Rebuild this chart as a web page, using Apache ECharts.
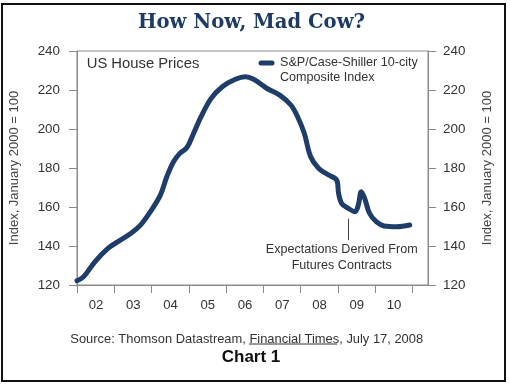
<!DOCTYPE html>
<html>
<head>
<meta charset="utf-8">
<script src="https://cdn.jsdelivr.net/npm/echarts@6/dist/echarts.min.js"></script>
<style>html,body{margin:0;padding:0;background:#fff;}#c{width:510px;height:384px;}</style>
</head>
<body>
<div id="c"></div>
<script>
// Time in fractional years
var years = [2002.0, 2002.18, 2002.48, 2002.83, 2003.1, 2003.45, 2003.71, 2003.97, 2004.24, 2004.41, 2004.59, 2004.76, 2004.95, 2005.11, 2005.33, 2005.6, 2005.9, 2006.25, 2006.52, 2006.74, 2007.09, 2007.44, 2007.74, 2007.92, 2008.1, 2008.27, 2008.49, 2008.75, 2008.97, 2009.02, 2009.1, 2009.28, 2009.46, 2009.55, 2009.63, 2009.72, 2009.85, 2010.03, 2010.24, 2010.59, 2010.93];
var values = [122.2, 124.3, 131.9, 138.8, 142.2, 146.5, 150.8, 157.6, 166.2, 175.5, 183.2, 187.5, 190.5, 196.9, 206.3, 215.7, 221.7, 225.5, 226.8, 225.5, 220.9, 217.4, 212.3, 206.3, 197.8, 185.8, 179.8, 176.4, 173.8, 167.0, 161.9, 159.3, 157.6, 161.0, 167.8, 164.4, 156.8, 152.5, 150.3, 149.9, 150.8];
var yTicks = [120, 140, 160, 180, 200, 220, 240];
var xLabels = ['02', '03', '04', '05', '06', '07', '08', '09', '10'];
var annotationX = 2009.29;
var annotationRange = [154, 143];

var seriesData = years.map(function (t, i) { return [t, values[i]]; });
var F = 'Liberation Sans, Arial, sans-serif';
var axisGrey = '#8a8a8a';
var navy = '#1e3d68';

var chart = echarts.init(document.getElementById('c'), null, {renderer: 'canvas'});
var yAxisCommon = {
  type: 'value', min: yTicks[0], max: yTicks[yTicks.length - 1], interval: 20,
  name: 'Index, January 2000 = 100', nameLocation: 'middle', nameRotate: 90,
  nameTextStyle: {fontFamily: F, fontSize: 13, color: '#444'},
  axisLine: {show: true, lineStyle: {color: axisGrey, width: 1}},
  axisTick: {show: true, length: 8, lineStyle: {color: axisGrey}},
  splitLine: {show: false},
  axisLabel: {fontFamily: F, fontSize: 13.4, color: '#333'}
};
chart.setOption({
  animation: false,
  grid: {left: 69, right: 82, top: 51, bottom: 99, show: true, borderColor: axisGrey, borderWidth: 1},
  xAxis: {
    type: 'value', min: 2002, max: 2011.42, interval: 1,
    axisLine: {show: true, lineStyle: {color: axisGrey}},
    axisTick: {show: true, length: 8, lineStyle: {color: axisGrey}},
    splitLine: {show: false},
    axisLabel: {
      fontFamily: F, fontSize: 13.2, color: '#333', margin: 14,
      padding: [0, 0, 0, 38],
      showMaxLabel: false,
      formatter: function (v) {
        var i = Math.round(v) - 2002;
        return (i >= 0 && i < xLabels.length) ? xLabels[i] : '';
      }
    }
  },
  yAxis: [
    Object.assign({}, yAxisCommon, {position: 'left', nameGap: 56, axisLabel: Object.assign({}, yAxisCommon.axisLabel, {margin: 17})}),
    Object.assign({}, yAxisCommon, {position: 'right', nameGap: 53, axisLabel: Object.assign({}, yAxisCommon.axisLabel, {margin: 15})})
  ],
  series: [{
    type: 'line', name: 'S&P/Case-Shiller 10-city Composite Index',
    data: seriesData, showSymbol: false, smooth: 0.35,
    lineStyle: {color: navy, width: 5, cap: 'round', join: 'round'},
    markLine: {
      silent: true, symbol: 'none', label: {show: false},
      lineStyle: {color: '#444', width: 1, type: 'solid'},
      data: [[{coord: [annotationX, annotationRange[0]]}, {coord: [annotationX, annotationRange[1]]}]]
    }
  }],
  graphic: [
    {type: 'rect', shape: {x: 2, y: 4, width: 503, height: 377}, style: {fill: 'none', stroke: '#111', lineWidth: 2}, silent: true},
    {type: 'text', x: 251.5, y: 23, style: {text: 'How Now, Mad Cow?', font: 'bold 19.6px "DejaVu Serif", serif', fill: '#1f3b63', textAlign: 'center', textVerticalAlign: 'middle'}},
    {type: 'text', x: 86.7, y: 64, style: {text: 'US House Prices', font: '14.8px ' + F, fill: '#333', textAlign: 'left', textVerticalAlign: 'middle'}},
    {type: 'line', shape: {x1: 261, y1: 63, x2: 272, y2: 63}, style: {stroke: navy, lineWidth: 5, lineCap: 'round'}},
    {type: 'text', x: 280, y: 63, style: {text: 'S&P/Case-Shiller 10-city', font: '12.6px ' + F, fill: '#333', textAlign: 'left', textVerticalAlign: 'middle'}},
    {type: 'text', x: 280, y: 78, style: {text: 'Composite Index', font: '12.6px ' + F, fill: '#333', textAlign: 'left', textVerticalAlign: 'middle'}},
    {type: 'text', x: 341.7, y: 250, style: {text: 'Expectations Derived From', font: '12.6px ' + F, fill: '#333', textAlign: 'center', textVerticalAlign: 'middle'}},
    {type: 'text', x: 341.7, y: 266, style: {text: 'Futures Contracts', font: '12.6px ' + F, fill: '#333', textAlign: 'center', textVerticalAlign: 'middle'}},
    {type: 'text', x: 246.7, y: 339, style: {text: 'Source: Thomson Datastream, Financial Times, July 17, 2008', font: '12.9px ' + F, fill: '#333', textAlign: 'center', textVerticalAlign: 'middle'}},
    {type: 'line', shape: {x1: 249, y1: 344, x2: 337, y2: 344}, style: {stroke: '#333', lineWidth: 1}},
    {type: 'text', x: 251, y: 357, style: {text: 'Chart 1', font: 'bold 17px ' + F, fill: '#111', textAlign: 'center', textVerticalAlign: 'middle'}}
  ]
});
</script>
</body>
</html>
